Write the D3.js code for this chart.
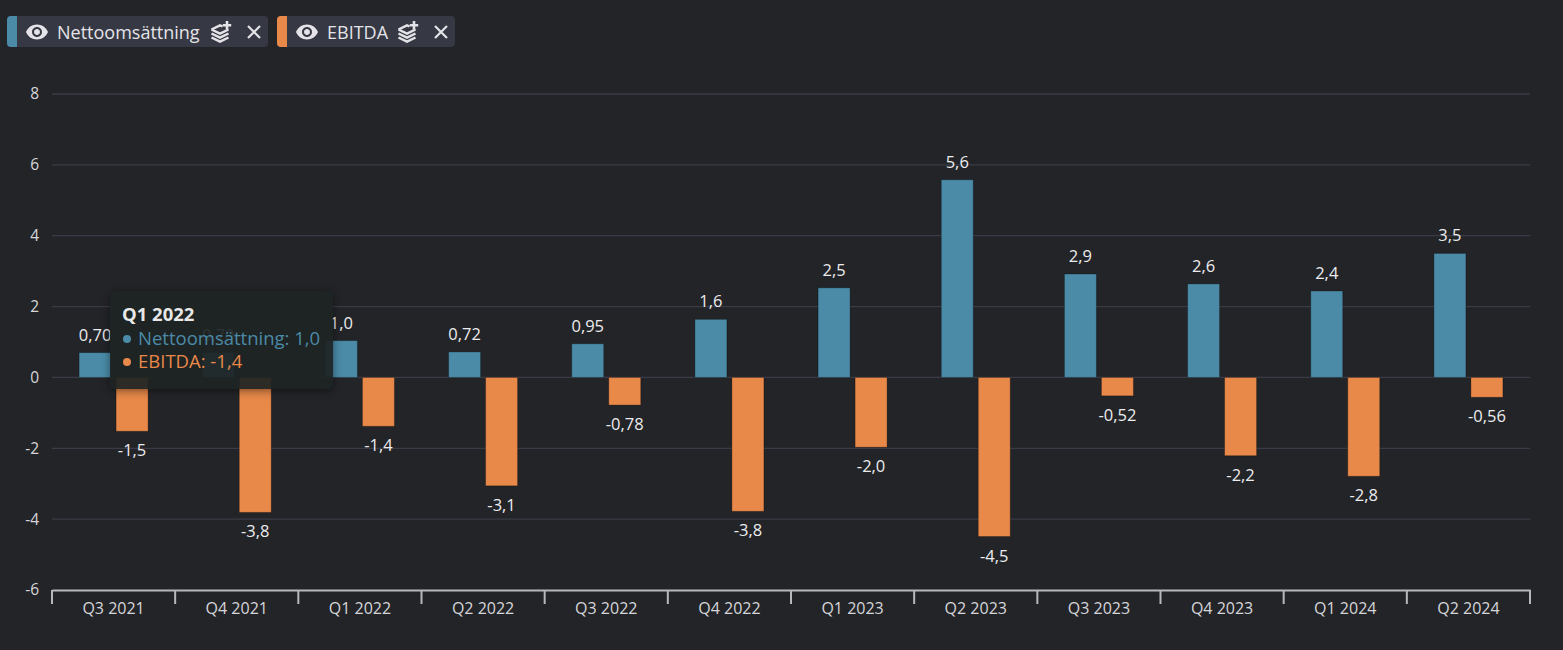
<!DOCTYPE html>
<html>
<head>
<meta charset="utf-8">
<script src="https://cdn.jsdelivr.net/npm/d3@7"></script>
<style>
  html, body { margin: 0; padding: 0; background: #232428; overflow: hidden; }
  body { width: 1563px; height: 650px; position: relative; font-family: "Open Sans", "Noto Sans", sans-serif; }
  .legend { position: absolute; left: 7px; top: 16px; display: flex; gap: 9px; }
  .chip { height: 31px; display: flex; align-items: center; background: #363844; border-radius: 4px; overflow: hidden; color: #e4e4e8; font-size: 18px; }
  .chip .strip { width: 10px; height: 100%; }
  .chip svg { display: block; }
  .tip { position: absolute; left: 110px; top: 291px; width: 223px; height: 98px; box-sizing: border-box;
         background: rgba(30, 35, 35, 0.93); border-radius: 5px; box-shadow: 0 2px 8px rgba(0,0,0,0.45);
         padding: 11px 12px; font-size: 18.5px; line-height: 23.5px; white-space: nowrap; }
  .tip .t { color: #e8e8e8; font-weight: 700; }
  .tip .dot { display: inline-block; width: 8px; height: 8px; border-radius: 50%; margin: 0 7px 2px 1px; }
</style>
</head>
<body>
<div class="legend" id="legend"></div>
<svg id="chart" width="1563" height="650" style="position:absolute;left:0;top:0"></svg>
<div class="tip" id="tip"></div>
<script>
// quarters on the x axis
const categories = ["Q3 2021", "Q4 2021", "Q1 2022", "Q2 2022", "Q3 2022", "Q4 2022",
  "Q1 2023", "Q2 2023", "Q3 2023", "Q4 2023", "Q1 2024", "Q2 2024"];
const seriesNames = ["Nettoomsättning", "EBITDA"];
const seriesColors = ["#4b8ba7", "#e8894a"];
const netSales = [0.70, 0.70, 1.04, 0.72, 0.95, 1.64, 2.53, 5.58, 2.92, 2.64, 2.44, 3.50];
const ebitda = [-1.52, -3.81, -1.38, -3.06, -0.78, -3.78, -1.97, -4.49, -0.52, -2.21, -2.79, -0.56];
const yTicks = [-6, -4, -2, 0, 2, 4, 6, 8];
const tooltipIndex = 2; // Q1 2022 hovered

const svg = d3.select("#chart");
const plotLeft = 52, plotRight = 1530, plotTop = 94, plotBottom = 590;

const locale = d3.formatLocale({ decimal: ",", thousands: " ", grouping: [3], currency: ["", " kr"], minus: "-" });
const fmt = locale.format(".2r");

let x = d3.scaleBand().domain(categories).range([plotLeft, plotRight]).paddingInner(0).paddingOuter(0);
let y = d3.scaleLinear().domain([-6, 8]).range([plotBottom, plotTop]);
// two bars per quarter, 32px wide with a 5px gap, centred in the band
let xs = d3.scaleBand().domain(seriesNames)
  .range([x.bandwidth() / 2 - 34.5, x.bandwidth() / 2 + 34.5])
  .paddingInner(5 / 37).paddingOuter(0);

// grid lines
svg.append("g")
  .selectAll("line")
  .data(yTicks.filter(d => d !== -6))
  .enter()
  .append("line")
  .attr("x1", plotLeft).attr("x2", plotRight)
  .attr("y1", d => y(d)).attr("y2", d => y(d))
  .attr("stroke", "#3a3b46").attr("stroke-width", 1.3);

// y labels
svg.append("g")
  .selectAll("text")
  .data(yTicks)
  .enter()
  .append("text")
  .attr("x", 39)
  .attr("y", d => y(d))
  .attr("dy", "0.35em")
  .attr("text-anchor", "end")
  .attr("fill", "#d6d6da")
  .style("font-size", "15.5px")
  .text(d => locale.format("d")(d));

// x axis
let xAxis = d3.axisBottom(x).tickSizeInner(0).tickSizeOuter(0).tickPadding(13);
let gx = svg.append("g").attr("transform", `translate(0,${plotBottom})`).call(xAxis);
gx.select(".domain").attr("stroke", "#b8b8bc").attr("stroke-width", 2);
gx.selectAll("text").attr("fill", "#d6d6da").style("font-size", "16px").style("font-family", "Open Sans, sans-serif");
gx.selectAll(".sep")
  .data(categories.map(c => x(c)).concat([plotRight]))
  .enter()
  .append("line")
  .attr("class", "sep")
  .attr("x1", d => d).attr("x2", d => d)
  .attr("y1", 0).attr("y2", 14)
  .attr("stroke", "#b8b8bc").attr("stroke-width", 2);

// bars
const seriesData = [netSales, ebitda];
seriesNames.forEach((name, si) => {
  let g = svg.append("g").attr("class", "series");
  let rows = categories.map((c, i) => ({ c: c, v: seriesData[si][i] }));
  g.selectAll("rect")
    .data(rows)
    .enter()
    .append("rect")
    .attr("x", d => x(d.c) + xs(name))
    .attr("width", xs.bandwidth())
    .attr("y", d => y(Math.max(0, d.v)))
    .attr("height", d => Math.abs(y(d.v) - y(0)))
    .attr("fill", seriesColors[si])
    .attr("stroke", "rgba(0,0,0,0.28)")
    .attr("stroke-width", 1);
  g.selectAll("text")
    .data(rows)
    .enter()
    .append("text")
    .attr("x", d => x(d.c) + xs(name) + xs.bandwidth() / 2)
    .attr("y", d => d.v >= 0 ? y(d.v) - 12 : y(d.v) + 25)
    .attr("text-anchor", "middle")
    .attr("fill", "#ececee")
    .style("font-size", "16.5px")
    .text(d => fmt(d.v));
});

// legend chips
const icons = {
  eye: '<svg width="24" height="24" viewBox="0 0 24 24"><path fill="#e4e4e8" d="M12 4.5C7 4.5 2.73 7.61 1 12c1.73 4.39 6 7.5 11 7.5s9.27-3.11 11-7.5c-1.73-4.39-6-7.5-11-7.5zM12 17c-2.76 0-5-2.24-5-5s2.24-5 5-5 5 2.24 5 5-2.24 5-5 5zm0-8c-1.66 0-3 1.34-3 3s1.34 3 3 3 3-1.34 3-3-1.34-3-3-3z"/></svg>',
  layers: '<svg width="24" height="24" viewBox="0 0 24 24"><g fill="none" stroke="#e4e4e8" stroke-width="2.4" stroke-linejoin="round"><path d="M2.5 9.5l8.5 4.2 8.5-4.2"/><path d="M2.5 13.5l8.5 4.2 8.5-4.2"/><path d="M2.5 17.5l8.5 4.2 8.5-4.2"/><path d="M2.5 9.5l8.5-4.2 2.5 1.2"/></g><path d="M18 1v8.5M13.8 5.2h8.4" stroke="#e4e4e8" stroke-width="2.6"/></svg>',
  close: '<svg width="16" height="16" viewBox="0 0 16 16"><path d="M2 2L14 14M14 2L2 14" stroke="#e4e4e8" stroke-width="2.2"/></svg>'
};
const chipWidths = [261, 178];
const layerGaps = [9, 8];
let legend = d3.select("#legend");
seriesNames.forEach((name, si) => {
  let chip = legend.append("div").attr("class", "chip").style("width", chipWidths[si] + "px");
  chip.append("div").attr("class", "strip").style("background", seriesColors[si]);
  chip.append("div").style("margin-left", "8px").html(icons.eye);
  chip.append("div").style("margin-left", "8px").text(name);
  chip.append("div").style("margin-left", layerGaps[si] + "px").html(icons.layers);
  chip.append("div").style("margin-left", "13px").html(icons.close);
});

// tooltip for the hovered quarter
let tip = d3.select("#tip");
tip.append("div").attr("class", "t").text(categories[tooltipIndex]);
seriesNames.forEach((name, si) => {
  let row = tip.append("div").style("color", seriesColors[si]);
  row.append("span").attr("class", "dot").style("background", seriesColors[si]);
  row.append("span").text(name + ": " + fmt(seriesData[si][tooltipIndex]));
});
</script>
</body>
</html>
